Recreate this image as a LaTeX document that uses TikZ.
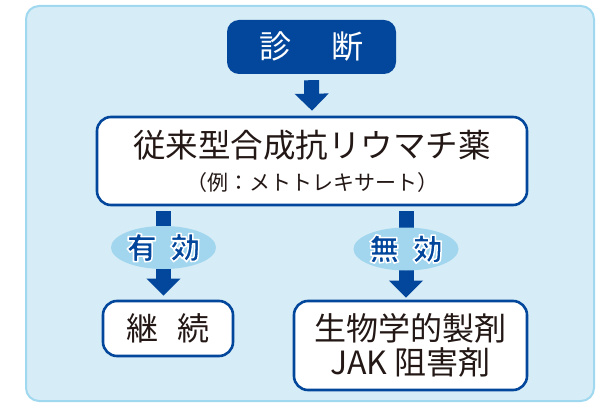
\documentclass[tikz,border=0pt]{standalone}
\usepackage{fontspec}
\setmainfont{Noto Sans CJK JP}
\newfontfamily\jp{Noto Sans CJK JP}
\usetikzlibrary{arrows.meta,shapes.geometric,calc}
\definecolor{dblue}{HTML}{03479C}
\definecolor{ofill}{HTML}{D6ECF6}
\definecolor{oline}{HTML}{A0D8F0}
\definecolor{efill}{HTML}{A2D6EE}
\definecolor{tdark}{HTML}{231815}
\newcommand\halotext[1]{\special{pdf:literal direct 2 Tr 1.5 w 1 1 1 RG 1 J 1 j}#1\special{pdf:literal direct 0 Tr}}
\pgfdeclarelayer{bg}
\pgfdeclarelayer{mid}
\pgfsetlayers{bg,mid,main}
\tikzset{
  frame/.style={draw=oline,fill=ofill,line width=2pt,rounded corners=13pt,inner sep=0pt},
  headbox/.style={fill=dblue,rounded corners=12pt,text=white,inner sep=0pt,font=\jp\fontsize{32}{34}\selectfont},
  whitebox/.style={draw=dblue,fill=white,line width=2.6pt,rounded corners=14pt,inner sep=0pt,text=tdark,align=center},
  resultlabel/.style={ellipse,fill=efill,inner sep=0pt,minimum width=105pt,minimum height=43pt,text=dblue,font=\jp\bfseries\fontsize{30}{32}\selectfont},
  bigarrow/.style={draw=dblue,line width=15pt,-{Triangle[width=33pt,length=17pt]}},
}
\begin{document}
\begin{tikzpicture}[x=1pt,y=-1pt]
\useasboundingbox (0,0) rectangle (604,403);
\begin{pgfonlayer}{bg}
\node[frame,minimum width=568pt,minimum height=395pt] (outer) at (310,203.5) {};
\end{pgfonlayer}
\node[headbox,minimum width=169pt,minimum height=54pt] (diag) at (311.5,47) {診\hspace{1.25em}断};
\node[whitebox,minimum width=430pt,minimum height=88pt] (main) at (312,161)
  {{\fontsize{32.5}{34}\selectfont 従来型合成抗リウマチ薬}\\[11pt]{\fontsize{21}{22}\selectfont （例：メトトレキサート）}};
\node[whitebox,minimum width=130pt,minimum height=55pt,font=\fontsize{32}{34}\selectfont] (keizoku) at (168,328.5) {継\hspace{0.6em}続};
\node[whitebox,minimum width=233pt,minimum height=89pt,font=\fontsize{32}{34}\selectfont] (bio) at (410.5,345.5) {生物学的製剤\\JAK 阻害剤};
\node[resultlabel] (yuko) at (163.5,247.5) {\halotext{有\hspace{0.45em}効}};
\node[resultlabel] (muko) at (406,249) {\halotext{無\hspace{0.45em}効}};
\begin{pgfonlayer}{mid}
\draw[bigarrow] ($(diag.south)+(0,6)$) -- ($(main.north)+(0,-5)$);
\draw[bigarrow] ($(main.south -| yuko)+(0,5)$) -- ($(keizoku.north -| yuko)+(0,-4)$);
\draw[bigarrow] ($(main.south -| muko)+(0,5)$) -- ($(bio.north -| muko)+(0,-2)$);
\end{pgfonlayer}
\end{tikzpicture}
\end{document}
